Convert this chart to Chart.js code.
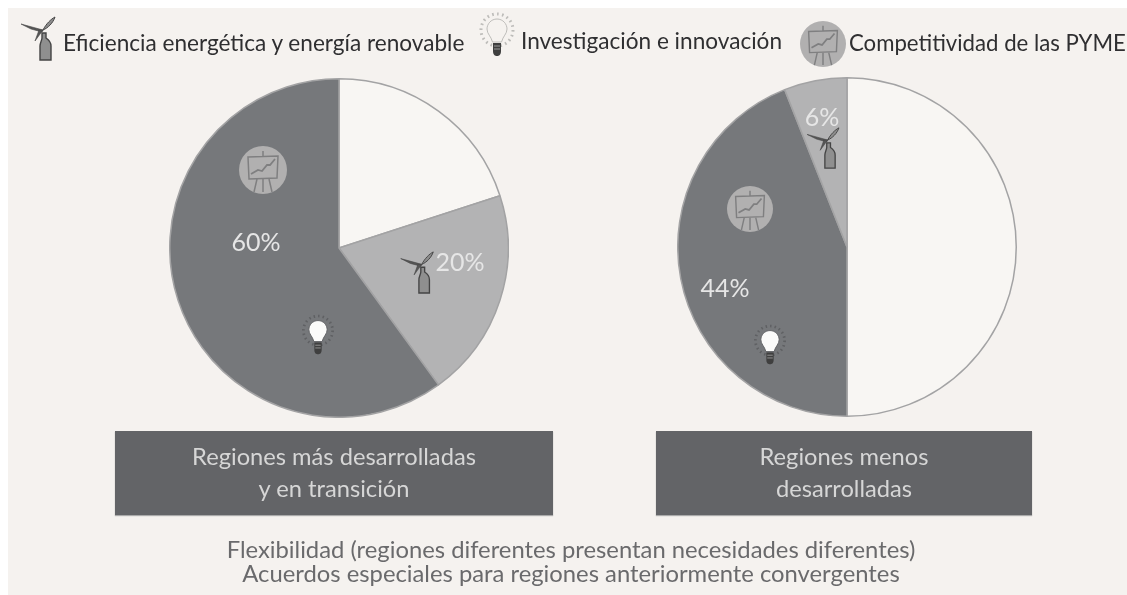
<!DOCTYPE html>
<html lang="es"><head><meta charset="utf-8">
<script src="https://cdn.jsdelivr.net/npm/chart.js@4/dist/chart.umd.min.js"></script>
<style>
html,body{margin:0;padding:0;background:#fff;width:1127px;height:595px;overflow:hidden}
#panel{position:absolute;left:8px;top:8px;width:1119px;height:587px;background:#f5f2ef}
canvas{position:absolute}
.t{position:absolute;white-space:nowrap;font-family:Lato,"Open Sans",sans-serif;filter:blur(.35px)}
.leg{font-size:22.6px;color:#2f2f31;line-height:28px}
.pct{font-size:25px;color:#e6e6e6;line-height:28px;transform:translate(-50%,-50%)}
.box{position:absolute;top:431px;height:84px;background:#636467;box-shadow:0 1px 1px #aaa;color:#d6d6d6;font-family:Lato,"Open Sans",sans-serif;font-size:23.7px;line-height:32px;text-align:center;box-sizing:border-box;padding-top:9px;filter:blur(.3px)}
.foot{text-align:center;font-size:23.8px;color:#6a6a6c;line-height:24px;transform:translateX(-50%)}
svg.ic{position:absolute;overflow:visible;filter:blur(.35px)}
</style></head><body>
<div id="panel"></div>
<svg width="0" height="0" style="position:absolute"><defs>
<symbol id="turbine" viewBox="0 0 36 46" overflow="visible">
<path d="M23 15L1 9L11 14L22 17Z" fill="#555" stroke="#444" stroke-width=".6"/>
<path d="M23 15C26 9 31 4 35 2C33 8 28 13 23 15Z" fill="#8c8c8c" stroke="#444" stroke-width="1"/>
<path d="M23 15L15 26L19 15Z" fill="#555" stroke="#444" stroke-width=".6"/>
<path d="M22 18L26 18L26 23C29 25 31 28 31 31L31 45L20 45L20 31C20 28 22 25 22 23Z" fill="#8f8f8f" stroke="#444" stroke-width="1.4"/>
</symbol>
<symbol id="bulb" viewBox="0 0 36 46" overflow="visible">
<circle cx="18" cy="16" r="16" fill="none" stroke="currentColor" stroke-width="3" stroke-dasharray="1.6 3.4"/>
<path d="M18 5C12 5 8 10 8 15C8 20 12 22 13.500 28L22.500 28C24 22 28 20 28 15C28 10 24 5 18 5Z" fill="var(--b)" stroke="currentColor" stroke-width="1"/>
<path d="M14 29L22 29L22 37C22 41 20 42 18 42C16 42 14 41 14 37Z" fill="#3f3f3f"/>
<path d="M15 32L21 32M15 35L21 35" stroke="#999" stroke-width="1"/>
</symbol>
<symbol id="board" viewBox="0 0 48 48" overflow="visible">
<circle cx="24" cy="24" r="24" fill="#b1b0b0"/>
<g fill="none" stroke="#7f7f80" stroke-width="1.500">
<path d="M24 5L24 10M9 11L39 10L38 32L10 33Z"/>
<path d="M12 28L19 24L23 25L28 19L31 19L36 13" stroke-width="1.800"/>
<path d="M18 33L15 46M30 33L33 46M24 33L24 46"/>
</g>
</symbol>
</defs></svg>
<canvas id="c1"></canvas>
<canvas id="c2"></canvas>
<div id="overlay"></div>
<script>
const categoriasIzq = ["Otros", "Eficiencia energética y energía renovable", "Investigación, innovación y competitividad de las PYME"];
const categoriasDer = ["Otros", "Investigación, innovación y competitividad de las PYME", "Eficiencia energética y energía renovable"];
const legendLabels = ["Eficiencia energética y energía renovable", "Investigación e innovación", "Competitividad de las PYME"];
const masDesarrolladas = [20, 20, 60];
const menosDesarrolladas = [50, 44, 6];
const coloresIzq = ["#f8f6f3", "#b3b3b4", "#76787b"];
const coloresDer = ["#f8f6f3", "#76787b", "#b3b3b4"];
const tituloIzq = ["Regiones más desarrolladas", "y en transición"];
const tituloDer = ["Regiones menos", "desarrolladas"];
const notas = ["Flexibilidad (regiones diferentes presentan necesidades diferentes)", "Acuerdos especiales para regiones anteriormente convergentes"];

function pie(id, cx, cy, r, labels, values, colors){
  const el = document.getElementById(id);
  const size = 2*r + 2;
  el.width = size; el.height = size;
  el.style.left = (cx - size/2) + "px";
  el.style.top = (cy - size/2) + "px";
  return new Chart(el, {
    type: "pie",
    data: {labels, datasets: [{data: values, backgroundColor: colors, borderColor: "#a3a3a4", borderWidth: 1.5}]},
    options: {responsive: false, animation: false, layout: {padding: 0}, plugins: {legend: {display: false}, tooltip: {enabled: false}}}
  });
}
pie("c1", 339, 248, 169, categoriasIzq, masDesarrolladas, coloresIzq);
pie("c2", 847, 247, 169, categoriasDer, menosDesarrolladas, coloresDer);

const ov = document.getElementById("overlay");
function text(cls, x, y, s){
  const d = document.createElement("div");
  d.className = "t " + cls; d.textContent = s;
  d.style.left = x + "px";
  d.style.top = y + "px"; ov.appendChild(d); return d;
}
function icon(sym, x, y, w, h, color, bulbFill){
  const ns = "http://www.w3.org/2000/svg";
  const s = document.createElementNS(ns, "svg");
  s.setAttribute("class", "ic"); s.setAttribute("width", w); s.setAttribute("height", h);
  s.style.left = x + "px"; s.style.top = y + "px";
  if (color) s.style.color = color;
  if (bulbFill) s.style.setProperty("--b", bulbFill);
  const u = document.createElementNS(ns, "use");
  u.setAttribute("href", "#" + sym); u.setAttribute("width", w); u.setAttribute("height", h);
  s.appendChild(u); ov.appendChild(s);
}
text("leg", 63, 29, legendLabels[0]);
text("leg", 521, 27, legendLabels[1]);
text("leg", 849, 29, legendLabels[2]).style.fontSize = "22.2px";
icon("turbine", 20, 15, 36, 46);
icon("bulb", 479, 14, 36, 46, "#bdbcb9", "#f5f2ef");
icon("board", 800, 21, 46, 46);

text("pct", 256, 241, masDesarrolladas[2] + "%");
text("pct", 460, 261, masDesarrolladas[1] + "%");
text("pct", 822, 116, menosDesarrolladas[2] + "%");
text("pct", 725, 287, menosDesarrolladas[1] + "%");
icon("board", 239, 146, 48, 48);
icon("board", 727, 186, 46, 46);
icon("turbine", 399, 250, 36, 44);
icon("turbine", 806, 126, 34, 43);
icon("bulb", 300, 316, 36, 42, "#5f6063", "#fbfbfa");
icon("bulb", 752, 326, 36, 42, "#5f6063", "#fbfbfa");

function box(x, w, lines){
  const d = document.createElement("div");
  d.className = "box"; d.style.left = x + "px"; d.style.width = w + "px";
  d.innerHTML = lines.join("<br>"); ov.appendChild(d);
}
box(115, 438, tituloIzq);
box(656, 376, tituloDer);
text("foot", 571, 537, notas[0]);
text("foot", 571, 561, notas[1]);
</script>
</body></html>
